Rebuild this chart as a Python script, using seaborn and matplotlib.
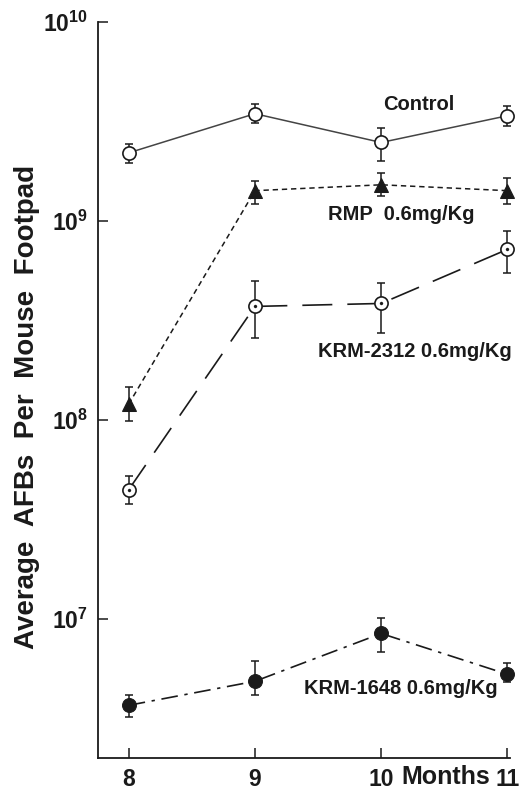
import numpy as np
import pandas as pd
import matplotlib
matplotlib.use("Agg")
import matplotlib.pyplot as plt
import seaborn as sns
from matplotlib.ticker import NullLocator

# ---- data ----
months = [8, 9, 10, 11]

control = [2.2e9, 3.46e9, 2.48e9, 3.38e9]
control_lo = [1.95e9, 3.09e9, 2.01e9, 3.01e9]
control_hi = [2.45e9, 3.88e9, 2.94e9, 3.79e9]

rmp = [1.2e8, 1.42e9, 1.52e9, 1.42e9]
rmp_lo = [0.99e8, 1.21e9, 1.33e9, 1.21e9]
rmp_hi = [1.46e8, 1.58e9, 1.75e9, 1.65e9]

krm2312 = [4.46e7, 3.72e8, 3.85e8, 7.2e8]
krm2312_lo = [3.8e7, 2.58e8, 2.73e8, 5.46e8]
krm2312_hi = [5.24e7, 4.98e8, 4.86e8, 8.95e8]

krm1648 = [3.68e6, 4.86e6, 8.45e6, 5.27e6]
krm1648_lo = [3.21e6, 4.14e6, 6.79e6, 4.81e6]
krm1648_hi = [4.14e6, 6.12e6, 1.01e7, 5.98e6]

series_labels = ["Control", "RMP  0.6mg/Kg", "KRM-2312 0.6mg/Kg", "KRM-1648 0.6mg/Kg"]
ytick_vals = [1e7, 1e8, 1e9, 1e10]
ytick_labels = ["10$^{7}$", "10$^{8}$", "10$^{9}$", "10$^{10}$"]
xtick_labels = ["8", "9", "10", "11"]

# ---- style ----
sns.set_style("ticks")
plt.rcParams["font.family"] = ["Liberation Sans", "DejaVu Sans"]
plt.rcParams["font.weight"] = "bold"
plt.rcParams["mathtext.fontset"] = "custom"
plt.rcParams["mathtext.rm"] = "Liberation Sans:bold"
plt.rcParams["mathtext.it"] = "Liberation Sans:bold"
plt.rcParams["mathtext.bf"] = "Liberation Sans:bold"

fig = plt.figure(figsize=(5.29, 7.91), dpi=100)
ax = fig.add_axes([0.185, 0.0417, 0.779, 0.9305])
ax.set_yscale("log")

ink = "#1a1a1a"

def errbars(vals, lo, hi):
    v = np.array(vals)
    ax.errorbar(months, v, yerr=[v - np.array(lo), np.array(hi) - v], fmt="none",
                ecolor=ink, elinewidth=1.1, capsize=3, capthick=1.1, zorder=2,
                clip_on=False)

errbars(control, control_lo, control_hi)
errbars(rmp, rmp_lo, rmp_hi)
errbars(krm2312, krm2312_lo, krm2312_hi)
errbars(krm1648, krm1648_lo, krm1648_hi)

sns.lineplot(x=months, y=control, ax=ax, color="#444444", lw=1.1, marker="o",
             markersize=9.5, markerfacecolor="white", markeredgecolor=ink,
             markeredgewidth=1.2, zorder=3, clip_on=False)
sns.lineplot(x=months, y=rmp, ax=ax, color=ink, lw=1.1, marker="^",
             markersize=9.5, markerfacecolor=ink, markeredgecolor=ink,
             dashes=(3.5, 2.5), zorder=3, clip_on=False)
sns.lineplot(x=months, y=krm2312, ax=ax, color=ink, lw=1.2, marker="o",
             markersize=9.5, markerfacecolor="white", markeredgecolor=ink,
             markeredgewidth=1.2, dashes=(18, 9), zorder=3, clip_on=False)
sns.scatterplot(x=months, y=krm2312, ax=ax, color=ink, s=5, marker="o",
                edgecolor=ink, zorder=4, clip_on=False)
sns.lineplot(x=months, y=krm1648, ax=ax, color=ink, lw=1.2, marker="o",
             markersize=10, markerfacecolor=ink, markeredgecolor=ink,
             dashes=(10, 4, 2, 4), zorder=3, clip_on=False)

ax.set_xlim(7.756, 11.02)
ax.set_ylim(2e6, 1e10)
ax.set_xticks(months)
ax.set_xticklabels(xtick_labels)
ax.set_yticks(ytick_vals)
ax.set_yticklabels(ytick_labels)
ax.yaxis.set_minor_locator(NullLocator())
ax.tick_params(axis="both", direction="in", length=7, width=1.1, colors=ink,
               labelsize=16.5, pad=7)
for lab in ax.get_xticklabels() + ax.get_yticklabels():
    lab.set_fontweight("bold")
sns.despine(ax=ax)
for s in ["left", "bottom"]:
    ax.spines[s].set_linewidth(1.3)
    ax.spines[s].set_color(ink)

ax.set_ylabel("Average  AFBs  Per  Mouse  Footpad", fontsize=20, fontweight="bold",
              color=ink)
ax.yaxis.set_label_coords(-0.14, 0.477)

txt = dict(fontsize=14.5, fontweight="bold", color=ink, va="center", ha="left")
ax.text(10.016, 3.84e9, series_labels[0], **txt)
ax.text(9.58, 1.08e9, series_labels[1], **txt)
ax.text(9.50, 2.22e8, series_labels[2], **txt)
ax.text(9.386, 4.49e6, series_labels[3], **txt)

fig.text(0.843, 0.002, "Months", fontsize=18, fontweight="bold", color=ink,
         ha="center", va="bottom")

fig.savefig("out.png", dpi=100, facecolor="white")
